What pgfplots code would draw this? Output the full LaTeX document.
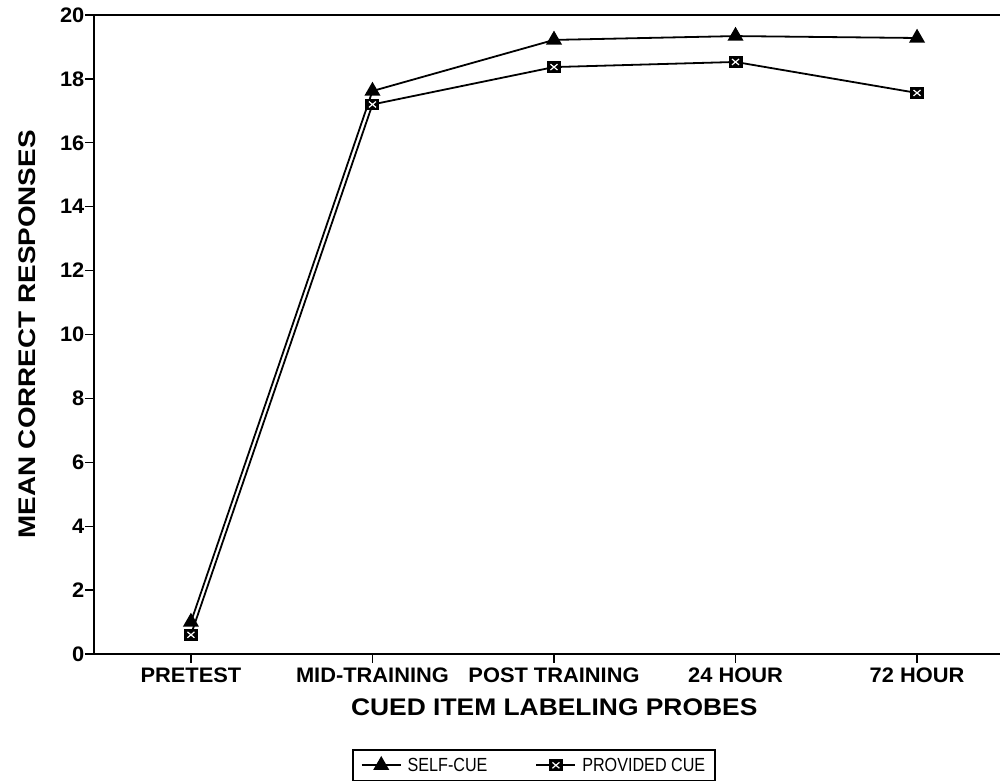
\documentclass[border=0pt]{standalone}
\usepackage{fontspec}
\setmainfont{Liberation Sans}
\newfontfamily\legfont[FakeStretch=0.85]{Liberation Sans}
\newfontfamily\xlabfont[FakeStretch=1.1]{Liberation Sans}
\newfontfamily\ylabfont[FakeStretch=1.16]{Liberation Sans}
\newfontfamily\tickfont[FakeStretch=1.04]{Liberation Sans}
\usepackage{pgfplots}
\pgfplotsset{compat=1.18}
\pgfdeclareplotmark{boxx}{%
  \pgfpathrectangle{\pgfpoint{-\pgfplotmarksize}{-0.85\pgfplotmarksize}}{\pgfpoint{2\pgfplotmarksize}{1.7\pgfplotmarksize}}%
  \pgfusepathqfill
  \pgfsetstrokecolor{white}\pgfsetlinewidth{1.2pt}%
  \pgfpathmoveto{\pgfpoint{-0.5\pgfplotmarksize}{-0.42\pgfplotmarksize}}%
  \pgfpathlineto{\pgfpoint{0.5\pgfplotmarksize}{0.42\pgfplotmarksize}}%
  \pgfpathmoveto{\pgfpoint{-0.5\pgfplotmarksize}{0.42\pgfplotmarksize}}%
  \pgfpathlineto{\pgfpoint{0.5\pgfplotmarksize}{-0.42\pgfplotmarksize}}%
  \pgfusepathqstroke
}
\begin{document}
\begin{tikzpicture}[x=1pt,y=1pt]
\useasboundingbox (0,0) rectangle (1002,781);
\begin{axis}[
  at={(94pt,127pt)}, anchor=south west,
  scale only axis, width=906pt, height=639pt,
  xmin=-0.534, xmax=4.457, ymin=0, ymax=20,
  axis lines*=left, axis line style={-, line width=1.6pt},
  xtick={0,1,2,3,4},
  xticklabels={PRETEST,MID-TRAINING,POST TRAINING,24 HOUR,72 HOUR},
  ytick={0,2,...,20},
  tick align=outside, major tick length=9pt,
  tick style={black, line width=1.3pt},
  /pgf/number format/assume math mode=true,
  ticklabel style={font=\fontsize{21}{23}\tickfont\bfseries},
  yticklabel style={inner sep=0.5pt},
  xticklabel style={yshift=-1pt},
  xlabel={CUED ITEM LABELING PROBES},
  ylabel={MEAN CORRECT RESPONSES},
  every axis x label/.style={at={(axis description cs:0.508,-0.0955)}, anchor=base, font=\fontsize{24}{28}\xlabfont\bfseries},
  every axis y label/.style={at={(axis description cs:-0.0645,0.5)}, anchor=base, rotate=90, font=\fontsize{24}{28}\ylabfont\bfseries},
  legend columns=2,
  legend style={at={(axis description cs:0.4857,-0.1487)}, anchor=north,
    draw=black, line width=1.8pt, font=\fontsize{19}{22}\legfont,
    inner xsep=8pt, inner ysep=6pt, row sep=4pt,
    /tikz/every odd column/.append style={column sep=4pt},
    /tikz/every even column/.append style={column sep=46pt}},
  legend cell align=left,
  legend image code/.code={\draw[mark repeat=2,mark phase=2,#1] plot coordinates {(0pt,0pt) (19.5pt,0pt) (39pt,0pt)};},
  clip=false,
]
\addplot[black, line width=1.8pt, mark=triangle*, mark size=7.5pt, mark options={solid,fill=black}]
  coordinates {(0,1.0) (1,17.62) (2,19.22) (3,19.34) (4,19.28)};
\addlegendentry{SELF-CUE}
\addplot[black, line width=1.8pt, mark=boxx, mark size=7pt, mark options={solid,fill=black}]
  coordinates {(0,0.6) (1,17.2) (2,18.37) (3,18.53) (4,17.56)};
\addlegendentry{PROVIDED CUE}
\draw[line width=1.8pt] (rel axis cs:0,1) -- (rel axis cs:1,1);
\end{axis}
\end{tikzpicture}
\end{document}
